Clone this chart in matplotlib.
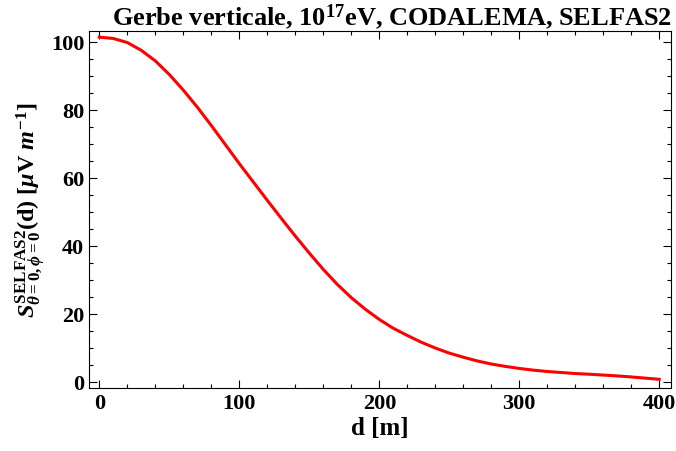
import matplotlib
matplotlib.use("Agg")
import matplotlib.pyplot as plt
from matplotlib.ticker import MultipleLocator

plt.rcParams['font.family'] = ['Liberation Serif', 'DejaVu Serif']
plt.rcParams['font.weight'] = 'bold'
plt.rcParams['axes.titleweight'] = 'bold'
plt.rcParams['axes.labelweight'] = 'bold'
plt.rcParams['mathtext.fontset'] = 'custom'
plt.rcParams['mathtext.rm'] = 'Liberation Serif:bold'
plt.rcParams['mathtext.bf'] = 'Liberation Serif:bold'
plt.rcParams['mathtext.it'] = 'Liberation Serif:italic:bold'

# distance (m) and field amplitude
d = [0, 10, 20, 30, 40, 50, 60, 70, 80, 90, 100, 110, 120, 130, 140, 150,
     160, 170, 180, 190, 200, 210, 220, 230, 240, 250, 260, 270, 280, 290,
     300, 310, 320, 330, 340, 350, 360, 370, 380, 390, 400]
s = [101.3, 100.9, 99.7, 97.4, 94.3, 90.3, 85.7, 80.7, 75.3, 69.7, 64.1,
     58.7, 53.3, 48.0, 42.8, 37.8, 33.0, 28.6, 24.7, 21.3, 18.3, 15.7, 13.6,
     11.6, 9.9, 8.4, 7.2, 6.1, 5.2, 4.5, 3.9, 3.4, 3.0, 2.7, 2.4, 2.2, 1.95,
     1.7, 1.4, 1.05, 0.7]

fig = plt.figure(figsize=(6.76, 4.52), dpi=100)
ax = fig.add_axes([0.1317, 0.1394, 0.8609, 0.7898])

ax.plot(d, s, color='red', lw=2.2)

ax.set_xlim(-7.4, 408.4)
ax.set_ylim(-1.85, 103.1)
ax.xaxis.set_major_locator(MultipleLocator(100))
ax.xaxis.set_minor_locator(MultipleLocator(20))
ax.yaxis.set_major_locator(MultipleLocator(20))
ax.yaxis.set_minor_locator(MultipleLocator(5))
ax.tick_params(which='both', direction='in', top=True, right=True,
               labelsize=16, width=0.8)
ax.tick_params(which='major', length=6)
ax.tick_params(which='minor', length=3)
for sp in ax.spines.values():
    sp.set_linewidth(0.8)

ax.set_xlabel('d [m]', fontsize=18, labelpad=2)
ax.set_ylabel(r'$\it{S}^{\mathbf{SELFAS2}}_{\theta=0,\phi=0}$(d) [$\mu$V $\it{m}^{-1}$]',
              fontsize=17.5, labelpad=2)
ax.set_title(r'Gerbe verticale, 10$^{17}$eV, CODALEMA, SELFAS2',
             fontsize=19, pad=3, x=0.52)

fig.savefig('out.png', dpi=100)
